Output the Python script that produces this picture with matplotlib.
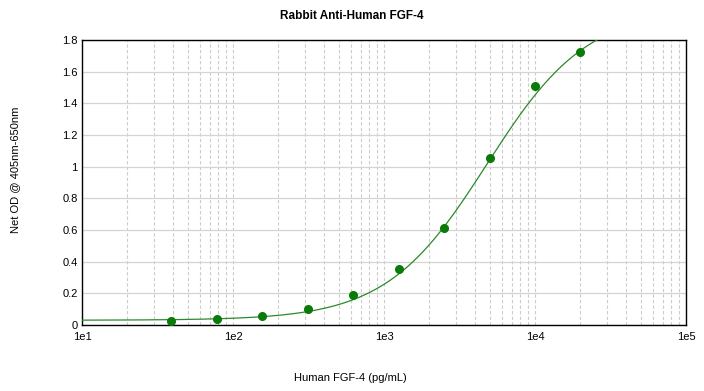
import numpy as np
import matplotlib.pyplot as plt
from matplotlib.ticker import FixedLocator, LogLocator, NullFormatter

plt.rcParams['font.family'] = ['Liberation Sans', 'DejaVu Sans']

# standard dilution series and measured OD
conc = [39.06, 78.13, 156.25, 312.5, 625, 1250, 2500, 5000, 10000, 20000]
od = [0.025, 0.035, 0.055, 0.10, 0.19, 0.355, 0.613, 1.055, 1.51, 1.725]

# 4-parameter logistic fit
fit_bottom = 0.03
fit_top = 2.0
fit_ec50 = 4800
fit_hill = 1.3

x_ticks = [1e1, 1e2, 1e3, 1e4, 1e5]
x_labels = ['1e1', '1e2', '1e3', '1e4', '1e5']
y_ticks = [0, 0.2, 0.4, 0.6, 0.8, 1, 1.2, 1.4, 1.6, 1.8]
y_labels = ['0', '0.2', '0.4', '0.6', '0.8', '1', '1.2', '1.4', '1.6', '1.8']

green = '#0a7a0a'

fig = plt.figure(figsize=(7.04, 3.91), dpi=100)
ax = fig.add_axes([82 / 704, 1 - 325 / 391, 604 / 704, 285 / 391])

xs = np.logspace(1, 5, 400)
ys = fit_top + (fit_bottom - fit_top) / (1 + (xs / fit_ec50) ** fit_hill)
ax.plot(xs, ys, color='#2a8a2a', lw=0.9, zorder=3)
ax.plot(conc, od, 'o', color=green, ms=5.5, zorder=4)

ax.set_xscale('log')
ax.set_xlim(10, 1e5)
ax.set_ylim(0, 1.8)
ax.xaxis.set_major_locator(FixedLocator(x_ticks))
ax.set_xticklabels(x_labels)
ax.xaxis.set_minor_locator(LogLocator(base=10, subs=np.arange(2, 10)))
ax.xaxis.set_minor_formatter(NullFormatter())
ax.set_yticks(y_ticks)
ax.set_yticklabels(y_labels)
ax.tick_params(which='both', length=0, labelsize=8, pad=3)
ax.tick_params(axis='x', pad=5)

ax.grid(axis='y', which='major', color='#d4d4d4', lw=0.9, ls='-')
ax.grid(axis='x', which='both', color='#cccccc', lw=0.8, ls=(0, (3, 2)))
ax.set_axisbelow(True)
for s in ax.spines.values():
    s.set_linewidth(1.0)
    s.set_color('black')

fig.text(0.5, 1 - 16 / 391, 'Rabbit Anti-Human FGF-4', ha='center', va='center',
         fontsize=8.5, fontweight='bold')
fig.text(0.497, 1 - 378 / 391, 'Human FGF-4 (pg/mL)', ha='center', va='center', fontsize=8)
fig.text(15 / 704, 1 - 170 / 391, 'Net OD @ 405nm-650nm', ha='center', va='center',
         rotation=90, fontsize=8)

fig.savefig('out.png', dpi=100)
